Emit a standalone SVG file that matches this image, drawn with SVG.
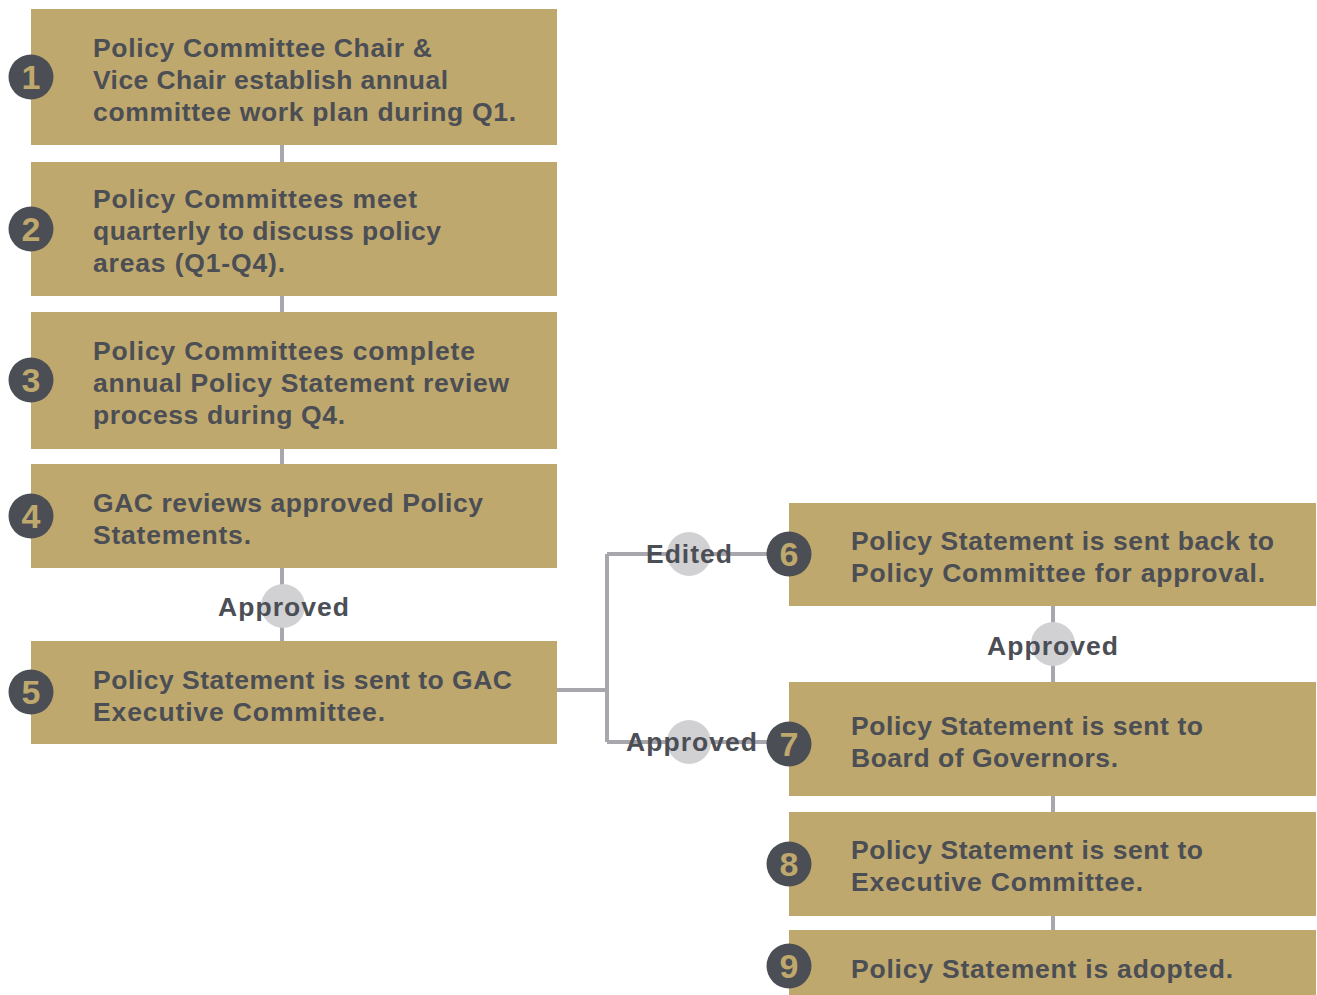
<svg xmlns="http://www.w3.org/2000/svg" width="1317" height="995" viewBox="0 0 1317 995">
<style>
.box{fill:#bfa86d}
.num{fill:#4b4e54}
.numt{fill:#bfa86d;font-family:"Liberation Sans",Arial,sans-serif;font-weight:bold;font-size:34px;text-anchor:middle}
.t{fill:#4b4e54;font-family:"Liberation Sans",Arial,sans-serif;font-weight:bold;font-size:26.5px}
.ln{stroke:#a8a7ad;stroke-width:4;fill:none}
.lc{fill:#d1d1d4}
.lt{fill:#4b4e54;font-family:"Liberation Sans",Arial,sans-serif;font-weight:bold;font-size:26.5px}
</style>
<rect width="1317" height="995" fill="#ffffff"/>
<g id="connectors">
<line class="ln" x1="282" y1="140" x2="282" y2="646"/>
<path class="ln" d="M557 690 H607 M607 554 V742 M607 554 H789 M607 742 H789"/>
<line class="ln" x1="1053" y1="600" x2="1053" y2="935"/>
<circle class="lc" cx="283" cy="606" r="22"/>
<text class="lt" x="218" y="616" textLength="131">Approved</text>
<circle class="lc" cx="689" cy="554" r="22"/>
<text class="lt" x="646" y="563" textLength="86">Edited</text>
<circle class="lc" cx="689" cy="742" r="22"/>
<text class="lt" x="626" y="751" textLength="131">Approved</text>
<circle class="lc" cx="1053" cy="644" r="22"/>
<text class="lt" x="987" y="655" textLength="131">Approved</text>
</g>
<g id="node1">
<rect class="box" x="31" y="9" width="526" height="136"/>
<circle class="num" cx="31" cy="77" r="22.5"/>
<text class="numt" x="31" y="89">1</text>
<text class="t" x="93" y="57" textLength="339">Policy Committee Chair &amp;</text>
<text class="t" x="93" y="89" textLength="355">Vice Chair establish annual</text>
<text class="t" x="93" y="121" textLength="423">committee work plan during Q1.</text>
</g>
<g id="node2">
<rect class="box" x="31" y="162" width="526" height="134"/>
<circle class="num" cx="31" cy="229" r="22.5"/>
<text class="numt" x="31" y="241">2</text>
<text class="t" x="93" y="208" textLength="324">Policy Committees meet</text>
<text class="t" x="93" y="240" textLength="348">quarterly to discuss policy</text>
<text class="t" x="93" y="272" textLength="192">areas (Q1-Q4).</text>
</g>
<g id="node3">
<rect class="box" x="31" y="312" width="526" height="137"/>
<circle class="num" cx="31" cy="380" r="22.5"/>
<text class="numt" x="31" y="392">3</text>
<text class="t" x="93" y="360" textLength="382">Policy Committees complete</text>
<text class="t" x="93" y="392" textLength="416">annual Policy Statement review</text>
<text class="t" x="93" y="424" textLength="252">process during Q4.</text>
</g>
<g id="node4">
<rect class="box" x="31" y="464" width="526" height="104"/>
<circle class="num" cx="31" cy="516" r="22.5"/>
<text class="numt" x="31" y="528">4</text>
<text class="t" x="93" y="512" textLength="390">GAC reviews approved Policy</text>
<text class="t" x="93" y="544" textLength="158">Statements.</text>
</g>
<g id="node5">
<rect class="box" x="31" y="641" width="526" height="103"/>
<circle class="num" cx="31" cy="692" r="22.5"/>
<text class="numt" x="31" y="704">5</text>
<text class="t" x="93" y="689" textLength="419">Policy Statement is sent to GAC</text>
<text class="t" x="93" y="721" textLength="292">Executive Committee.</text>
</g>
<g id="node6">
<rect class="box" x="789" y="503" width="527" height="103"/>
<circle class="num" cx="789" cy="554" r="22.5"/>
<text class="numt" x="789" y="566">6</text>
<text class="t" x="851" y="550" textLength="423">Policy Statement is sent back to</text>
<text class="t" x="851" y="582" textLength="414">Policy Committee for approval.</text>
</g>
<g id="node7">
<rect class="box" x="789" y="682" width="527" height="114"/>
<circle class="num" cx="789" cy="744" r="22.5"/>
<text class="numt" x="789" y="756">7</text>
<text class="t" x="851" y="735" textLength="352">Policy Statement is sent to</text>
<text class="t" x="851" y="767" textLength="267">Board of Governors.</text>
</g>
<g id="node8">
<rect class="box" x="789" y="812" width="527" height="104"/>
<circle class="num" cx="789" cy="864" r="22.5"/>
<text class="numt" x="789" y="876">8</text>
<text class="t" x="851" y="859" textLength="352">Policy Statement is sent to</text>
<text class="t" x="851" y="891" textLength="292">Executive Committee.</text>
</g>
<g id="node9">
<rect class="box" x="789" y="930" width="527" height="65"/>
<circle class="num" cx="789" cy="966" r="22.5"/>
<text class="numt" x="789" y="978">9</text>
<text class="t" x="851" y="978" textLength="382">Policy Statement is adopted.</text>
</g>
</svg>
